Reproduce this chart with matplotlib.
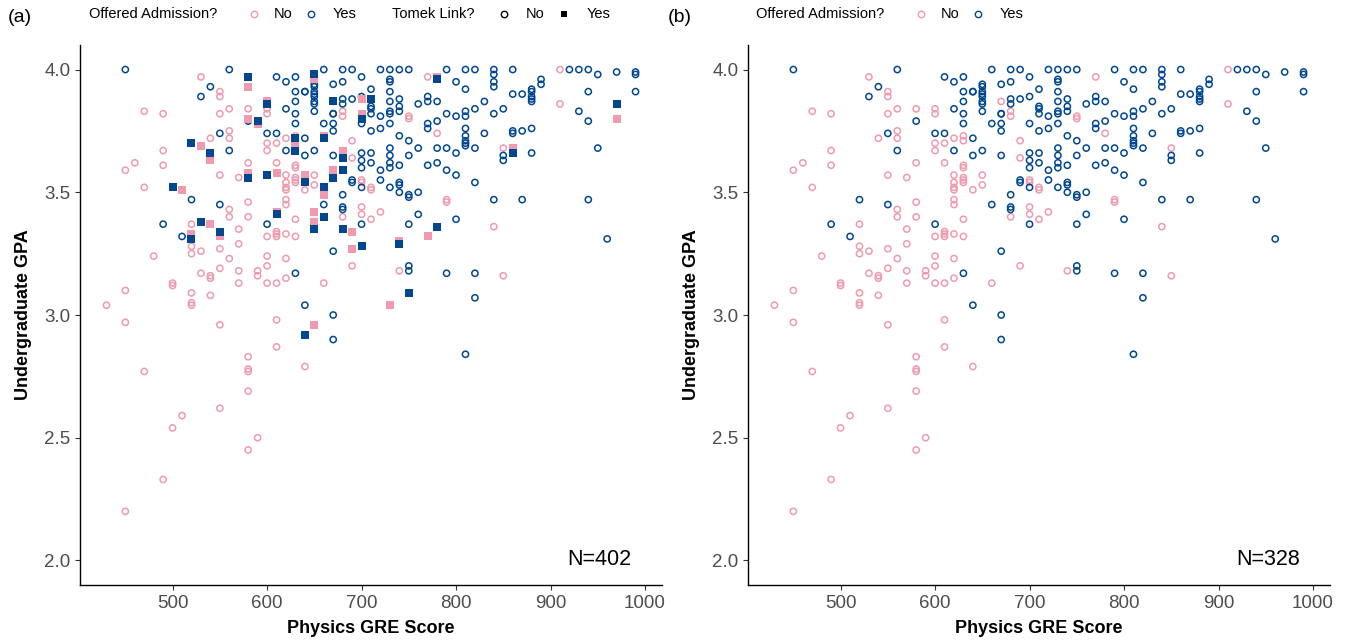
import numpy as np
import matplotlib.pyplot as plt
from matplotlib.lines import Line2D

plt.rcParams['font.family'] = ['Liberation Sans', 'DejaVu Sans']

PINK = '#EF9AAE'
BLUE = '#00478F'

# (GRE, GPA) points.
# Not offered admission, not in a Tomek link.
no_pts = [
    (530, 3.97), (550, 3.91), (550, 3.89), (470, 3.83), (490, 3.82), (550, 3.82),
    (560, 3.84), (580, 3.84), (600, 3.84), (600, 3.82), (560, 3.75), (560, 3.72),
    (540, 3.72), (600, 3.70), (610, 3.70), (490, 3.67), (600, 3.67), (460, 3.62),
    (450, 3.59), (490, 3.61), (580, 3.62), (610, 3.62), (550, 3.57), (570, 3.56),
    (470, 3.52), (560, 3.43), (560, 3.40), (580, 3.46), (580, 3.40), (520, 3.37),
    (570, 3.35), (610, 3.34),
    (600, 3.32), (610, 3.33), (610, 3.32), (570, 3.29), (520, 3.28), (520, 3.25),
    (530, 3.26), (550, 3.27), (480, 3.24), (560, 3.23), (600, 3.24), (600, 3.20),
    (550, 3.19), (570, 3.18), (590, 3.18), (590, 3.16), (530, 3.17), (540, 3.16),
    (540, 3.15), (570, 3.13), (600, 3.13), (610, 3.13), (500, 3.13), (500, 3.12),
    (450, 3.10), (520, 3.09), (540, 3.08), (520, 3.05), (520, 3.04), (430, 3.04),
    (450, 2.97), (550, 2.96), (610, 2.98), (610, 2.87), (580, 2.83), (580, 2.78),
    (580, 2.77), (470, 2.77), (580, 2.69),
    (550, 2.62), (510, 2.59), (500, 2.54), (590, 2.50), (580, 2.45), (490, 2.33),
    (450, 2.20),
    (670, 3.87), (680, 3.83), (680, 3.81), (750, 3.81), (750, 3.80), (770, 3.97),
    (780, 3.74), (620, 3.72), (630, 3.73), (630, 3.71), (630, 3.61), (630, 3.60),
    (620, 3.57), (620, 3.54), (620, 3.52), (620, 3.51), (630, 3.56), (630, 3.55),
    (630, 3.54), (640, 3.51), (650, 3.57), (650, 3.53), (620, 3.47), (620, 3.45),
    (630, 3.39), (680, 3.40), (690, 3.71), (690, 3.64), (700, 3.55), (700, 3.54),
    (710, 3.52), (710, 3.51), (700, 3.44), (700, 3.41), (710, 3.39), (720, 3.42),
    (790, 3.47), (790, 3.46), (620, 3.33),
    (630, 3.32), (620, 3.23), (690, 3.20), (740, 3.18), (620, 3.15), (660, 3.13),
    (640, 2.79),
    (910, 4.00), (910, 3.86), (850, 3.68), (840, 3.36), (850, 3.16),
]

# Offered admission, not in a Tomek link.
yes_pts = [
    (450, 4.00), (560, 4.00), (610, 3.97), (540, 3.93), (530, 3.89), (580, 3.79),
    (550, 3.74), (600, 3.74), (610, 3.74), (560, 3.67), (520, 3.47), (550, 3.45),
    (490, 3.37), (600, 3.37), (510, 3.32),
    (660, 4.00), (680, 4.00), (690, 4.00), (720, 4.00), (730, 4.00), (740, 4.00),
    (750, 4.00), (790, 4.00), (620, 3.95), (630, 3.97),
    (650, 3.94), (650, 3.93), (650, 3.91), (650, 3.90), (650, 3.89), (650, 3.87),
    (650, 3.86), (650, 3.83),
    (640, 3.91), (640, 3.91), (630, 3.91), (630, 3.87), (620, 3.84), (630, 3.82),
    (630, 3.78), (670, 3.94), (670, 3.82), (670, 3.82), (670, 3.78), (670, 3.75),
    (660, 3.78), (680, 3.95), (680, 3.88), (680, 3.86), (690, 3.88), (700, 3.97),
    (700, 3.89), (700, 3.78), (710, 3.92), (710, 3.85), (710, 3.84), (710, 3.82),
    (710, 3.75), (720, 3.81), (720, 3.76), (730, 3.96), (730, 3.95), (730, 3.91),
    (730, 3.87), (730, 3.83), (730, 3.82), (730, 3.78), (740, 3.88), (740, 3.85),
    (740, 3.83), (740, 3.73), (750, 3.71), (760, 3.86), (770, 3.89), (770, 3.87),
    (780, 3.87), (770, 3.78), (770, 3.76), (780, 3.79), (790, 3.82), (800, 3.95),
    (800, 3.81),
    (640, 3.72), (620, 3.67), (640, 3.65), (650, 3.67), (660, 3.45), (670, 3.65),
    (700, 3.66), (700, 3.63), (700, 3.60), (710, 3.66), (710, 3.62), (720, 3.59),
    (730, 3.68), (730, 3.65), (730, 3.62), (730, 3.60), (740, 3.61), (750, 3.65),
    (760, 3.68), (770, 3.61), (780, 3.68), (780, 3.62), (790, 3.68), (790, 3.59),
    (800, 3.66), (800, 3.57),
    (680, 3.49), (680, 3.44), (680, 3.43), (690, 3.55), (690, 3.54), (700, 3.52),
    (720, 3.55), (700, 3.37), (730, 3.52), (740, 3.54), (740, 3.53), (740, 3.50),
    (750, 3.49), (750, 3.48), (760, 3.50), (760, 3.41), (750, 3.37), (800, 3.39),
    (670, 3.26), (750, 3.20), (750, 3.18), (790, 3.17), (630, 3.17), (640, 3.04),
    (670, 3.00), (670, 2.90), (810, 2.84),
    (810, 4.00), (820, 4.00), (840, 4.00), (840, 3.98), (860, 4.00), (920, 4.00),
    (930, 4.00), (940, 4.00), (950, 3.98), (970, 3.99), (990, 3.99), (990, 3.98),
    (890, 3.96), (890, 3.94), (840, 3.95), (840, 3.93), (810, 3.92), (880, 3.92),
    (880, 3.91), (880, 3.89), (880, 3.88), (880, 3.87), (860, 3.90), (870, 3.90),
    (940, 3.91), (990, 3.91), (930, 3.83), (940, 3.79), (830, 3.87), (850, 3.84),
    (820, 3.84), (810, 3.83), (810, 3.81), (840, 3.82), (810, 3.76), (810, 3.73),
    (810, 3.71), (810, 3.70), (810, 3.69), (830, 3.74), (860, 3.75), (860, 3.74),
    (870, 3.75), (880, 3.76), (820, 3.68), (850, 3.65), (850, 3.63), (880, 3.66),
    (950, 3.68), (820, 3.54), (840, 3.47), (870, 3.47), (940, 3.47),
    (960, 3.31), (820, 3.17), (820, 3.07),
]

# Tomek link members (shown only in panel a).
tomek_no = [
    (580, 3.93), (600, 3.87), (580, 3.80), (590, 3.78), (530, 3.69), (540, 3.63),
    (610, 3.58), (580, 3.58), (510, 3.51), (610, 3.42), (540, 3.37), (520, 3.33),
    (550, 3.32), (650, 3.96), (780, 3.97), (700, 3.88), (700, 3.82), (630, 3.69),
    (660, 3.73), (680, 3.67), (670, 3.59), (640, 3.57), (660, 3.49), (650, 3.42),
    (650, 3.38), (690, 3.34), (770, 3.32), (690, 3.27), (740, 3.30), (730, 3.04),
    (650, 2.96), (970, 3.80), (860, 3.68),
]
tomek_yes = [
    (580, 3.97), (600, 3.86), (590, 3.79), (520, 3.70), (540, 3.66), (600, 3.57),
    (580, 3.56), (500, 3.52), (610, 3.41), (530, 3.38), (550, 3.34), (520, 3.31),
    (650, 3.98), (780, 3.96), (670, 3.87), (710, 3.88), (700, 3.80), (630, 3.72),
    (630, 3.67), (660, 3.72), (680, 3.64), (670, 3.56), (680, 3.59), (640, 3.54),
    (660, 3.52), (650, 3.35), (660, 3.40), (680, 3.35), (780, 3.36), (700, 3.28),
    (740, 3.29), (750, 3.09), (640, 2.92), (970, 3.86), (860, 3.66),
]

x_ticks = [500, 600, 700, 800, 900, 1000]
y_ticks = [2.0, 2.5, 3.0, 3.5, 4.0]

W, H = 1361, 644
fig = plt.figure(figsize=(W / 100, H / 100), dpi=100)
ax_a = fig.add_axes([80 / W, 59 / H, 582 / W, 540 / H])
ax_b = fig.add_axes([748 / W, 59 / H, 582 / W, 540 / H])


def circles(ax, pts, color):
    arr = np.array(pts)
    ax.scatter(arr[:, 0], arr[:, 1], s=20, facecolors='none',
               edgecolors=color, linewidths=1.1, zorder=2)


def squares(ax, pts, color):
    arr = np.array(pts)
    ax.scatter(arr[:, 0], arr[:, 1], s=30, marker='s', color=color,
               linewidths=0, zorder=3)


def style(ax, n):
    ax.set_xlim(402, 1018)
    ax.set_ylim(1.9, 4.1)
    ax.set_xticks(x_ticks)
    ax.set_yticks(y_ticks)
    ax.set_yticklabels([f'{v:.1f}' for v in y_ticks])
    for s in ['top', 'right']:
        ax.spines[s].set_visible(False)
    for s in ['left', 'bottom']:
        ax.spines[s].set_linewidth(1.0)
    ax.tick_params(labelsize=13.5, labelcolor='#4D4D4D', length=3.5,
                   width=0.8, color='#333333')
    ax.set_xlabel('Physics GRE Score', fontsize=13, fontweight='bold', labelpad=6)
    ax.set_ylabel('Undergraduate GPA', fontsize=13, fontweight='bold', labelpad=9)
    ax.text(0.948, 0.047, f'N={n}', transform=ax.transAxes, fontsize=15.5,
            ha='right', va='center')


# panel (a): everything, Tomek links as filled squares
circles(ax_a, no_pts, PINK)
circles(ax_a, yes_pts, BLUE)
squares(ax_a, tomek_no, PINK)
squares(ax_a, tomek_yes, BLUE)
style(ax_a, 402)

# panel (b): Tomek links removed
circles(ax_b, no_pts, PINK)
circles(ax_b, yes_pts, BLUE)
style(ax_b, 328)


def fx(px):
    return px / W


ly = 1 - 14 / H


def key(px, marker, color, filled):
    fig.add_artist(Line2D([fx(px)], [ly], marker=marker, markersize=4.6 if marker == 'o' else 5,
                          markerfacecolor=color if filled else 'none',
                          markeredgecolor=color, markeredgewidth=1.0 if not filled else 0,
                          linestyle='none', transform=fig.transFigure))


def legend(off, tomek):
    fig.text(fx(off + 89), ly, 'Offered Admission?', fontsize=10.5, va='center')
    key(off + 254, 'o', PINK, False)
    fig.text(fx(off + 274), ly, 'No', fontsize=10.5, va='center')
    key(off + 311, 'o', BLUE, False)
    fig.text(fx(off + 333), ly, 'Yes', fontsize=10.5, va='center')
    if tomek:
        fig.text(fx(off + 392), ly, 'Tomek Link?', fontsize=10.5, va='center')
        key(off + 504, 'o', 'black', False)
        fig.text(fx(off + 526), ly, 'No', fontsize=10.5, va='center')
        key(off + 564, 's', 'black', True)
        fig.text(fx(off + 587), ly, 'Yes', fontsize=10.5, va='center')


legend(0, True)
legend(667, False)
fig.text(fx(8), 1 - 17 / H, '(a)', fontsize=14, va='center')
fig.text(fx(668), 1 - 17 / H, '(b)', fontsize=14, va='center')

fig.savefig('out.png', dpi=100)
